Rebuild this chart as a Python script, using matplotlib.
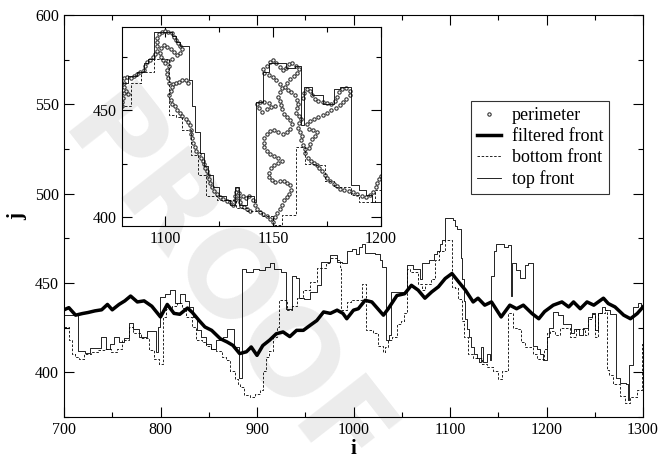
import numpy as np
import matplotlib
matplotlib.use('Agg')
import matplotlib.pyplot as plt
from matplotlib.ticker import MultipleLocator

plt.rcParams['font.family'] = ['Liberation Serif', 'DejaVu Serif']
plt.rcParams['font.size'] = 11

# filtered front (smooth-ish thick line)
filt_i = [700, 705, 712, 719, 725, 732, 739, 745, 750, 757, 763, 769, 776, 783, 791, 800, 807, 814, 820, 828,
          833, 840, 846, 853, 862, 869, 875, 882, 889, 894, 900, 906, 913, 920, 927, 934, 941, 948, 955, 962,
          969, 976, 983, 989, 993, 1000, 1005, 1012, 1019, 1031, 1036, 1045, 1053, 1060, 1067, 1074, 1081, 1088, 1095, 1102,
          1109, 1116, 1124, 1129, 1136, 1143, 1153, 1162, 1169, 1176, 1185, 1192, 1198, 1207, 1216, 1223, 1228, 1235, 1242, 1249,
          1259, 1264, 1271, 1280, 1287, 1294, 1300]
filt_j = [435, 436.2, 432, 432.9, 433.5, 434.4, 435, 438, 435, 438, 440, 442.7, 439.4, 440, 437, 431, 438, 433, 432.5, 436,
          433.5, 429, 425.4, 423.5, 418.8, 417, 415.1, 410.5, 411.5, 414.2, 409.5, 415, 418, 421.6, 422.6, 420, 423.5, 423.5, 426.3, 429,
          433.8, 433, 434.8, 433, 430, 434.8, 435.6, 440.3, 439.4, 432, 435.6, 443, 444, 448.7, 446, 441.5, 445, 447.9, 452.5, 455.3,
          450.6, 446, 439.4, 441.5, 437.6, 439.4, 431, 437.6, 435.6, 437.6, 432.9, 430, 434, 437.6, 439.4, 436.6, 439.4, 435.6, 439.4, 437.6,
          441.5, 438.5, 436.6, 432, 430, 432.9, 436.6]

# top front (step changes: i where the level starts, level j)
top_front = [(700, 432), (715, 412), (722, 411), (727, 413.5), (738, 420), (744, 413), (748, 416), (752, 419.7),
             (757, 417), (762, 419), (767, 427.4), (772, 424), (778, 419.7), (786, 423), (795.5, 411.4), (797, 425.5),
             (799, 442), (805, 444), (810, 446), (815, 439), (820, 444), (825, 440), (830, 436.5), (834, 431),
             (838, 423.6), (842, 419.8), (847, 416), (852, 413), (858, 418), (865, 420), (869, 424), (876, 414),
             (881.7, 397), (884, 458), (889, 456), (896, 458), (902, 457), (908, 459), (913, 461), (918, 458),
             (925, 456), (930, 435.5), (936, 454), (940, 453), (943, 441.5), (949, 441), (955, 445), (962, 449),
             (966, 461.6), (971, 462), (976, 465.5), (983, 462), (988, 461), (993, 468), (998, 469), (1003, 466),
             (1006, 470), (1008.5, 472), (1012, 467), (1022, 466), (1027, 463), (1030, 459), (1033.3, 418), (1037, 421),
             (1039, 445), (1055, 460), (1062, 458), (1069, 452.5), (1071, 461), (1078, 463), (1083, 466), (1087, 468),
             (1090, 472), (1092, 474), (1095, 486.5), (1103, 485), (1105, 482), (1107, 480), (1111, 464), (1112.5, 452),
             (1114, 440), (1116, 430), (1118, 424), (1120, 420), (1122, 414), (1125, 410), (1128, 408), (1130, 406),
             (1132.5, 414), (1134, 406), (1138, 410), (1141, 407), (1142, 454), (1145.5, 468), (1148, 472), (1156, 470),
             (1160, 471), (1162.8, 443), (1164.5, 461), (1168, 457), (1173, 453), (1178, 460), (1181, 461), (1186, 415),
             (1190, 413), (1193, 410.5), (1196, 407), (1200, 420), (1203, 425), (1207, 434), (1212, 432), (1217, 427),
             (1225, 422), (1229, 424.5), (1234, 421), (1238, 425), (1243, 431), (1247, 433), (1250, 423.5), (1253.5, 433),
             (1257, 436.6), (1261, 435), (1266, 432.9), (1272, 397), (1276, 394), (1282, 393.7), (1284, 384.3),
             (1285.5, 404), (1290, 436.6), (1295, 439), (1298, 436.6), (1300, 433)]

# bottom front
bottom_front = [(700, 425.4), (705, 418), (708, 410), (711, 408.6), (716, 407.7), (721, 410.5), (728, 411.4),
                (735, 412.3), (742, 413.3), (749, 411.4), (755, 413), (760, 418), (767, 425.4), (772, 422), (780, 419),
                (788, 412.3), (793, 407.7), (798, 404.9), (803, 431), (806, 435.7), (812, 437), (817, 439), (822, 436),
                (826, 431), (833, 425.4), (837, 418), (843, 417), (847, 415), (852, 413), (858, 412), (864, 408.6),
                (868, 406.7), (872, 401), (877, 396), (880, 393.7), (882, 391.8), (886, 387.4), (893, 386), (898, 388),
                (903, 390), (906, 401), (909, 408.6), (912, 412), (917, 419.8), (920.4, 425.4), (923, 440.3), (931, 434.7),
                (936, 437), (941, 441.5), (948, 446), (955, 450.5), (962, 458.5), (971, 461), (976, 464), (983, 462.8),
                (986, 459), (987, 434.7), (993, 439.4), (997, 440.3), (1008.5, 449.7), (1013, 423.6), (1020, 422),
                (1025, 415), (1031, 411.5), (1033, 414), (1036, 418), (1040, 420), (1045, 427.3), (1049, 429), (1052, 433),
                (1055, 458), (1058.6, 456), (1067, 449.7), (1071, 446), (1074, 449.7), (1080, 452), (1084, 463), (1089, 468),
                (1095, 474), (1101.7, 448), (1105, 447), (1108, 441), (1112, 429), (1115, 420), (1119, 410), (1124, 408),
                (1133, 404.5), (1138, 403), (1145, 400.5), (1150, 396.5), (1154, 401), (1160.4, 433), (1165, 425),
                (1169, 424.5), (1174, 417), (1178, 414), (1186, 410.5), (1190, 407.3), (1197, 413), (1200, 422), (1204, 423),
                (1209, 420.8), (1214, 424.6), (1224, 420), (1231, 424), (1240, 421), (1243, 430), (1247, 432.9),
                (1250.5, 419.8), (1253.7, 433), (1260.3, 434.7), (1262.3, 401.1), (1265, 398.6), (1269, 393.7), (1276, 387),
                (1281, 383), (1286.5, 386), (1294, 390), (1298.6, 416), (1300, 416)]

# perimeter sites shown in the inset
perimeter = [(1080, 452), (1080, 454), (1080.5, 456), (1081, 458), (1082, 459), (1083, 457.5), (1081, 461), (1081, 463),
             (1081, 465), (1082.5, 465.5), (1084, 465), (1085.5, 466), (1087, 467), (1088.5, 468), (1090, 469), (1090.5, 471),
             (1091.5, 472.5), (1093, 473.5), (1094.5, 475), (1095.5, 476.5),
             (1096, 478), (1096, 480), (1096, 482), (1096, 484), (1097, 485.5), (1098.5, 486.5), (1100, 487), (1101.5, 486.5),
             (1103, 486), (1104, 484.5), (1105, 483), (1106, 481.5), (1107, 480), (1108, 478.5), (1107, 477), (1105.5, 476),
             (1104, 477.5), (1102.5, 478.5), (1101, 479.5), (1099.5, 480.5), (1098, 479), (1097.5, 477), (1098, 475),
             (1099, 473.5), (1100, 472), (1101.5, 473), (1103, 474), (1102, 471), (1101, 469),
             (1101, 467), (1101.5, 465), (1102, 463), (1103.5, 462.5), (1105, 463), (1106.5, 463.5), (1108, 464), (1109.5, 464),
             (1110.5, 463), (1103, 461), (1102.5, 459), (1102, 457), (1102.5, 455), (1103, 453), (1104.5, 452), (1105.5, 450),
             (1107, 449), (1108, 447.5), (1109.5, 446), (1110.5, 444.5), (1111.5, 443), (1112, 441), (1112, 439), (1112.5, 437),
             (1113, 435), (1114, 433), (1114.5, 431), (1115.5, 429.5), (1116.5, 428), (1117.5, 426.5), (1118, 425), (1118.5, 423),
             (1119.5, 421.5), (1120, 420), (1120.5, 418), (1121, 416), (1121.5, 414), (1122.5, 412.5), (1124, 411), (1125.5, 409.5),
             (1127, 408.5), (1128.5, 407.5), (1130, 407), (1131.5, 406), (1132.5, 408), (1132.5, 410), (1133, 412), (1133.5, 413.5),
             (1134, 411.5), (1134, 409), (1134.5, 407), (1135, 405.5), (1136.5, 405), (1138, 404), (1139.5, 403),
             (1136, 410), (1137.5, 409), (1139, 410), (1140.5, 408), (1141.5, 406), (1142.5, 404), (1144, 402.5), (1145.5, 401.5),
             (1147, 400.5), (1148.5, 399.5), (1150, 398), (1151, 400), (1152, 402), (1153, 404), (1154, 406), (1155, 408),
             (1156.5, 409.5), (1157.5, 411), (1158.5, 413), (1158, 415), (1156.5, 416), (1155, 417), (1153, 417), (1151, 416.5),
             (1149.5, 417.5), (1148, 419), (1148, 421), (1149, 423), (1150.5, 424.5), (1152.5, 425.5), (1154, 426.5),
             (1152.5, 428), (1150.5, 428.5), (1148.5, 429.5), (1147, 431), (1146, 433), (1146, 435), (1146, 437), (1147, 439),
             (1148.5, 440.5), (1150.5, 441), (1152.5, 440), (1154.5, 439), (1156.5, 440), (1158, 441.5), (1159, 443.5),
             (1158, 445.5), (1156.5, 447), (1155, 448.5), (1154, 450.5), (1153.5, 452.5), (1153, 454.5), (1152.5, 456.5),
             (1151, 452), (1149, 451.5), (1147, 450.5), (1145, 449.5), (1143.5, 451), (1142.5, 453), (1144, 454), (1146, 454),
             (1148, 453.5),
             (1153, 458.5), (1154, 460.5), (1153, 462.5), (1151.5, 464), (1150, 465.5), (1148, 466.5), (1146, 467.5),
             (1145.5, 469.5), (1147, 471), (1148.5, 472.5), (1150, 473.5), (1151.5, 472), (1153, 470.5), (1154.5, 469),
             (1156, 470), (1157.5, 471.5), (1159, 472), (1160.5, 471), (1162, 469.5), (1161, 467.5), (1159.5, 466), (1158, 464.5),
             (1156.5, 463), (1155.5, 461), (1157, 459.5), (1158.5, 458.5),
             (1160, 457), (1161, 455), (1161.5, 453), (1161, 451), (1160.5, 449), (1162, 447.5), (1163, 446), (1162, 444),
             (1161.5, 442), (1162.5, 440), (1163.5, 438), (1163, 436), (1164, 434), (1165, 432), (1165, 430), (1166, 428),
             (1167.5, 426.5), (1169, 425.5), (1170.5, 424.5), (1171.5, 423), (1172.5, 421.5), (1174, 420), (1175, 418.5),
             (1176.5, 417), (1178, 415.5), (1179.5, 414.5), (1181, 413.5), (1183, 413), (1185, 412.5), (1187, 412), (1189, 411),
             (1191, 410), (1193, 409.5), (1195, 410.5), (1196.5, 412), (1197.5, 414), (1198, 416), (1199, 418), (1200, 419.5),
             (1164, 456), (1164.5, 458), (1165.5, 460), (1167, 459), (1168, 457), (1169.5, 455.5), (1171, 454.5), (1173, 454),
             (1175, 453.5), (1177, 453), (1178.5, 454.5), (1179.5, 456.5), (1180.5, 458.5), (1182, 460), (1184, 460.5),
             (1185.5, 459), (1185.5, 457), (1184, 455.5), (1182.5, 454), (1181, 452.5), (1179, 451), (1177, 450), (1175, 449),
             (1173, 448), (1171, 447), (1169, 446), (1167, 445), (1165.5, 443.5), (1166.5, 441.5), (1168.5, 441), (1170.5, 440),
             (1169.5, 438), (1168, 436.5), (1167, 434.5), (1166.5, 432.5)]

top_i, top_j = zip(*top_front)
bot_i, bot_j = zip(*bottom_front)
per_i, per_j = zip(*perimeter)

circ = dict(marker='o', ms=2.4, mfc='white', mec='#333333', mew=0.8)

fig = plt.figure(figsize=(6.62, 4.59), dpi=100)
ax = fig.add_axes([0.0967, 0.0915, 0.8746, 0.8758])

ax.plot(bot_i, bot_j, color='black', lw=0.6, ls=(0, (3, 2)), drawstyle='steps-post', label='bottom front')
ax.plot(top_i, top_j, color='black', lw=0.6, drawstyle='steps-post', label='top front')
ax.plot(filt_i, filt_j, color='black', lw=2.5, label='filtered front')
ax.plot([], [], ls='none', label='perimeter', **circ)

ax.set_xlim(700, 1300)
ax.set_ylim(375, 600)
ax.xaxis.set_major_locator(MultipleLocator(100))
ax.xaxis.set_minor_locator(MultipleLocator(50))
ax.yaxis.set_major_locator(MultipleLocator(50))
ax.yaxis.set_minor_locator(MultipleLocator(25))
ax.tick_params(which='both', direction='in', top=True, right=True, labelsize=11.5)
ax.tick_params(which='major', length=7, width=0.8)
ax.tick_params(which='minor', length=3.5, width=0.8)
ax.set_xlabel('i', fontsize=15, fontweight='bold', labelpad=1)
ax.set_ylabel('j', fontsize=15, fontweight='bold', labelpad=6)

handles, labels = ax.get_legend_handles_labels()
order = [3, 2, 0, 1]
leg = ax.legend([handles[k] for k in order], [labels[k] for k in order],
                loc='upper left', bbox_to_anchor=(0.703, 0.786), frameon=True, fancybox=False,
                edgecolor='black', fontsize=13, handlelength=1.3, handletextpad=0.6,
                borderpad=0.35, labelspacing=0.22, borderaxespad=0)
leg.get_frame().set_linewidth(0.8)

# inset
axin = fig.add_axes([0.1843, 0.5076, 0.3912, 0.4336])
axin.plot(per_i, per_j, ls='none', **circ)
axin.plot(bot_i, bot_j, color='black', lw=0.6, ls=(0, (3, 2)), drawstyle='steps-post')
axin.plot(top_i, top_j, color='black', lw=0.6, drawstyle='steps-post')
axin.set_xlim(1080, 1200)
axin.set_ylim(396, 489)
axin.xaxis.set_major_locator(MultipleLocator(50))
axin.xaxis.set_minor_locator(MultipleLocator(25))
axin.yaxis.set_major_locator(MultipleLocator(50))
axin.yaxis.set_minor_locator(MultipleLocator(25))
axin.tick_params(which='both', direction='in', top=True, right=True, labelsize=11.5)
axin.tick_params(which='major', length=7, width=0.8)
axin.tick_params(which='minor', length=3.5, width=0.8)

# proof watermark
fig.text(0.335, 0.37, 'PROOF', fontsize=84, fontweight='bold', family='DejaVu Sans',
         rotation=-52, color='black', alpha=0.08, ha='center', va='center', zorder=10)

fig.savefig('out.png', dpi=100)
